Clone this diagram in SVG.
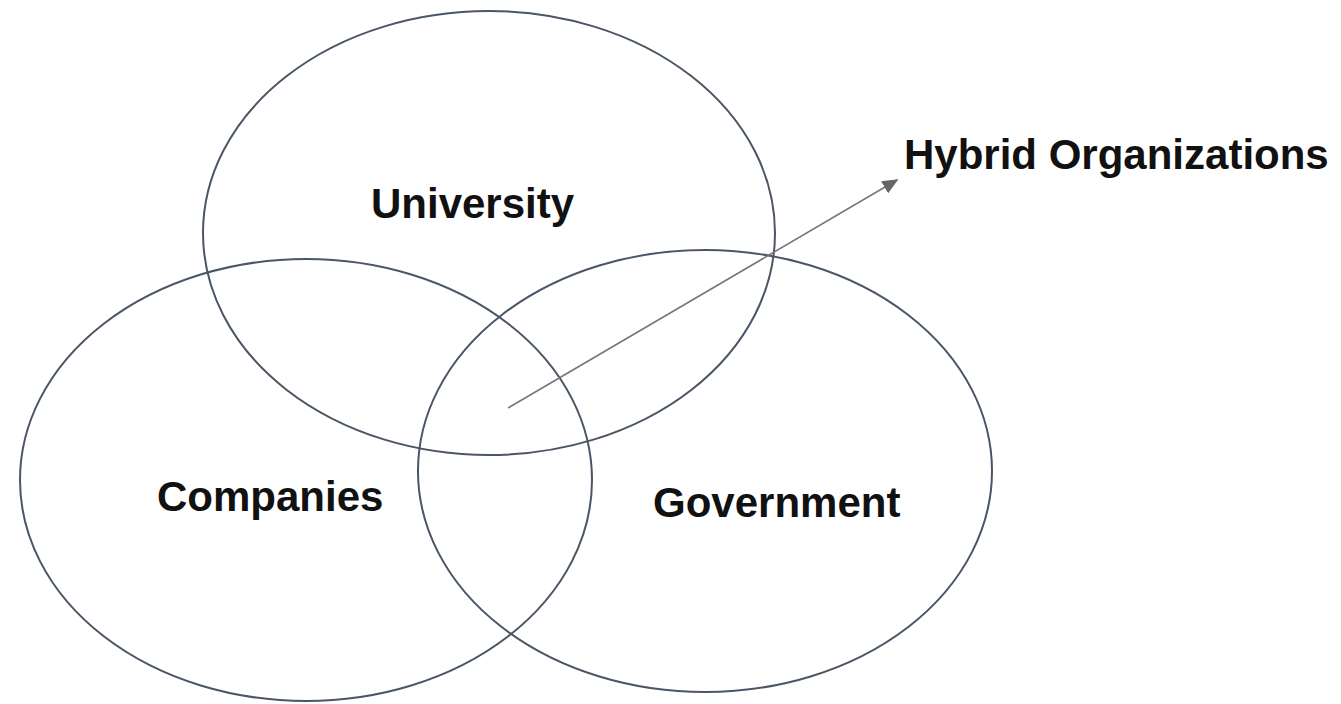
<svg xmlns="http://www.w3.org/2000/svg" width="1341" height="704" viewBox="0 0 1341 704">
<style>
.set{fill:none;stroke:#4a5566;stroke-width:2}
.lbl{font-family:"Liberation Sans",Arial,sans-serif;font-weight:bold;font-size:42px;fill:#111}
.con{stroke:#777;stroke-width:1.6;fill:none}
</style>
<defs>
<marker id="ah" viewBox="0 0 10 10" refX="9" refY="5" markerWidth="16" markerHeight="14" markerUnits="userSpaceOnUse" orient="auto" preserveAspectRatio="none">
<path d="M0,0 L10,5 L0,10 Z" fill="#666"/>
</marker>
</defs>
<rect width="1341" height="704" fill="#fff"/>
<g id="university"><ellipse class="set" cx="489" cy="233" rx="286" ry="222"/><text class="lbl" x="371" y="218">University</text></g>
<g id="companies"><ellipse class="set" cx="306" cy="480" rx="286" ry="221"/><text class="lbl" x="157" y="511">Companies</text></g>
<g id="government"><ellipse class="set" cx="705" cy="471" rx="287" ry="221"/><text class="lbl" x="653" y="517">Government</text></g>
<g id="hybrid"><text class="lbl" x="904" y="169">Hybrid Organizations</text></g>
<g id="connectors"><line class="con" x1="508" y1="408" x2="897" y2="180" marker-end="url(#ah)"/></g>
</svg>
